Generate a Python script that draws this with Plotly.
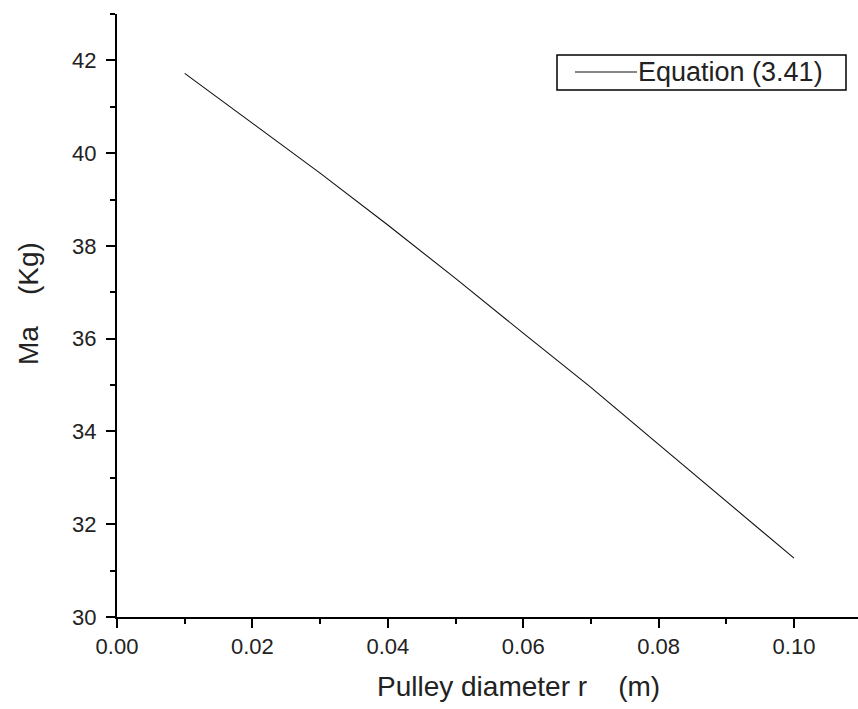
import plotly.graph_objects as go

# Data
r_values = [0.01, 0.02, 0.03, 0.04, 0.05, 0.06, 0.07, 0.08, 0.09, 0.10]
ma_values = [41.72, 40.65, 39.57, 38.45, 37.30, 36.12, 34.95, 33.72, 32.50, 31.27]
series_name = "Equation (3.41)"
x_title = "Pulley diameter r    (m)"
y_title = "Ma    (Kg)"

FONT = "Liberation Sans, Arial, sans-serif"
W, H = 858, 709
L, R, T, B = 117, 0, 14, 92
pw, ph = W - L - R, H - T - B


def px_x(p):
    return (p - L) / pw


def px_y(p):
    return (H - B - p) / ph


fig = go.Figure()
fig.add_trace(go.Scatter(
    x=r_values, y=ma_values, mode="lines", name=series_name,
    line=dict(color="#111111", width=1.1), showlegend=False,
))

axis_common = dict(
    showgrid=False, zeroline=False, showline=True, linecolor="black", linewidth=2,
    ticks="outside", ticklen=9, tickwidth=2, tickcolor="black",
    tickfont=dict(family=FONT, size=22, color="#222222"),
    mirror=False,
)

fig.update_xaxes(
    range=[0, pw / 6770.0], dtick=0.02, tick0=0, tickformat=".2f",
    minor=dict(dtick=0.01, ticklen=5, tickwidth=2, tickcolor="black", ticks="outside"),
    ticklabelstandoff=0,
    **axis_common,
)
fig.update_yaxes(
    range=[30, 43], dtick=2, tick0=30,
    minor=dict(dtick=1, ticklen=5, tickwidth=2, tickcolor="black", ticks="outside"),
    ticklabelstandoff=5,
    **axis_common,
)

# Axis titles as annotations (off-centre like the reference)
fig.add_annotation(
    text=x_title, xref="paper", yref="paper", x=px_x(518), y=px_y(686),
    xanchor="center", yanchor="middle", showarrow=False,
    font=dict(family=FONT, size=28, color="#222222"),
)
fig.add_annotation(
    text=y_title, xref="paper", yref="paper", x=px_x(28), y=px_y(304),
    xanchor="center", yanchor="middle", showarrow=False, textangle=-90,
    font=dict(family=FONT, size=28, color="#222222"),
)

# Legend box drawn like the reference (long sample line, boxed)
fig.add_shape(type="rect", xref="paper", yref="paper",
              x0=px_x(557), x1=px_x(846), y0=px_y(90), y1=px_y(55),
              line=dict(color="black", width=1.5), fillcolor="white")
fig.add_shape(type="line", xref="paper", yref="paper",
              x0=px_x(575), x1=px_x(637), y0=px_y(72), y1=px_y(72),
              line=dict(color="#111111", width=1.1))
fig.add_annotation(
    text=series_name, xref="paper", yref="paper", x=px_x(636), y=px_y(72.5),
    xanchor="left", yanchor="middle", showarrow=False,
    font=dict(family=FONT, size=27, color="#222222"),
)

fig.update_layout(
    width=W, height=H,
    margin=dict(l=L, r=R, t=T, b=B, pad=0),
    plot_bgcolor="white", paper_bgcolor="white",
    showlegend=False,
)

fig.write_html(
    "out.html",
    config={"displayModeBar": False},
    post_script="document.body.style.margin='0';document.body.style.overflow='hidden';",
)
